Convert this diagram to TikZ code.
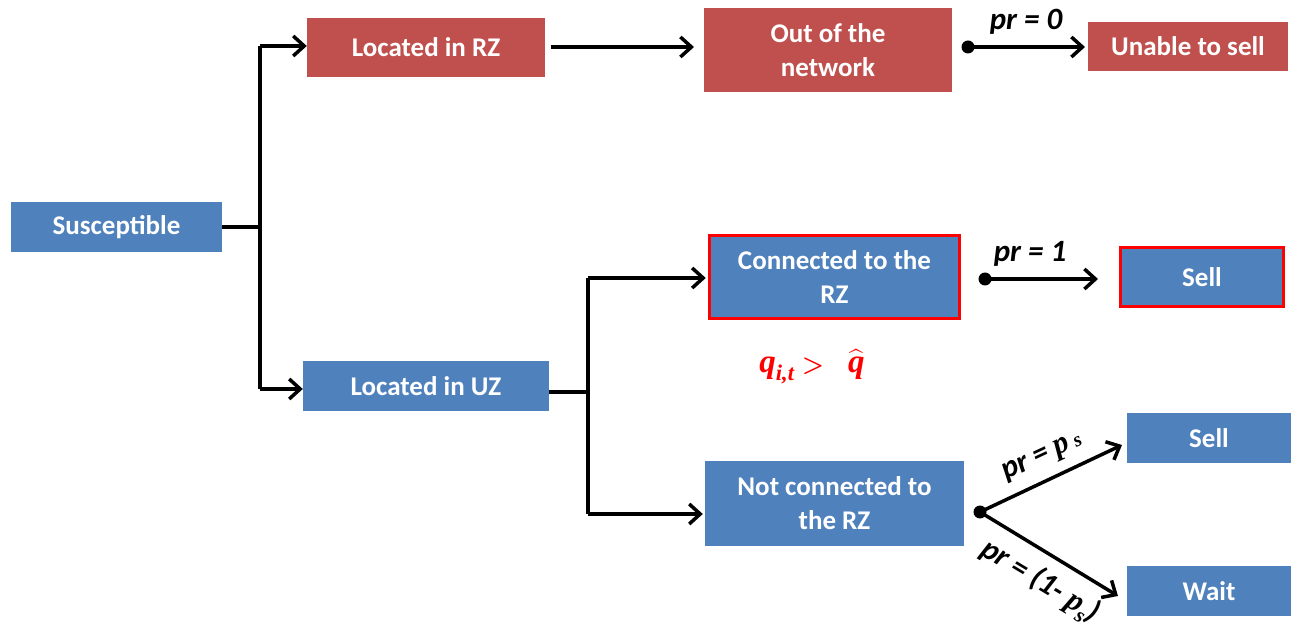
\documentclass[tikz,border=0pt]{standalone}
\usepackage{amsmath}
\usepackage{fontspec}
\setmainfont{Carlito}
\newfontfamily\serbi[BoldItalicFont={Liberation Serif Bold Italic}]{Liberation Serif}
\usetikzlibrary{arrows.meta}
\definecolor{boxred}{HTML}{C0504D}
\definecolor{boxblue}{HTML}{4F81BD}
\definecolor{hired}{HTML}{FF0000}
\newcommand{\mysub}[1]{\raisebox{-0.25em}{\fontsize{0.68em}{0.7em}\selectfont #1}}
\begin{document}
\begin{tikzpicture}[x=1pt,y=-1pt,
  box/.style={fill=boxblue,text=white,font=\fontsize{27}{34}\selectfont\bfseries,align=center,inner sep=0pt},
  rbox/.style={box,fill=boxred},
  hbox/.style={box,draw=hired,line width=3.5pt},
  conn/.style={line width=3.5pt,-{Straight Barb[length=11pt,width=20pt]}},
  plain/.style={line width=3.5pt},
  plab/.style={font=\fontsize{31}{34}\selectfont\bfseries\itshape},
  dotn/.style={circle,fill=black,inner sep=0pt,minimum size=13pt}]
\useasboundingbox (0,0) rectangle (1296,628);
% nodes
\node[box,minimum width=211pt,minimum height=50pt] (sus) at (116.5,227) {Susceptible};
\node[rbox,minimum width=238pt,minimum height=59pt] (lrz) at (426,47.5) {Located in RZ};
\node[box,minimum width=246pt,minimum height=50pt] (luz) at (426,386) {Located in UZ};
\node[rbox,minimum width=248pt,minimum height=84pt] (out) at (828,50) {Out of the\\network};
\node[rbox,minimum width=200pt,minimum height=49pt] (uns) at (1188,46.5) {Unable to sell};
\node[hbox,minimum width=250pt,minimum height=83pt] (con) at (834.5,277) {Connected to the\\RZ};
\node[hbox,minimum width=163pt,minimum height=59pt] (sell1) at (1202,277) {Sell};
\node[box,minimum width=259pt,minimum height=85pt] (ncon) at (834.5,503.5) {Not connected to\\the RZ};
\node[box,minimum width=164pt,minimum height=50pt] (sell2) at (1209,438) {Sell};
\node[box,minimum width=164pt,minimum height=50pt] (wait) at (1209,591) {Wait};
% junction coordinates
\coordinate (j1) at (260,227);
\coordinate (j1t) at (260,46);
\coordinate (j1b) at (260,389);
\coordinate (j2) at (588,392);
\coordinate (j2t) at (588,278);
\coordinate (j2b) at (588,514);
\coordinate (lrzo) at (551,47);
\coordinate (outi) at (694,47);
\node[dotn] (d1) at (968,47) {};
\node[dotn] (d2) at (985,279) {};
\node[dotn] (d3) at (980,512) {};
\coordinate (a1) at (1085,47);
\coordinate (a2) at (1098,279);
\coordinate (a3) at (1122,445);
\coordinate (a4) at (1118,596);
% connectors
\draw[plain] (sus.east) -- (j1);
\draw[plain] (j1t) -- (j1b);
\draw[conn] (j1t) -- (j1t -| lrz.west);
\draw[conn] (j1b) -- (j1b -| luz.west);
\draw[conn] (lrzo) -- (outi);
\draw[plain] (luz.east |- j2) -- (j2);
\draw[plain] (j2t) -- (j2b);
\draw[conn] (j2t) -- ([xshift=-2pt]j2t -| con.west);
\draw[conn] (j2b) -- ([xshift=-2pt]j2b -| ncon.west);
\draw[conn] (d1.center) -- (a1);
\draw[conn] (d2.center) -- (a2);
\draw[conn] (d3.center) -- (a3);
\draw[conn] (d3.center) -- (a4);
% labels
\node[plab] (l0) at (1026,22) {pr = 0};
\node[plab] (l1) at (1030,254) {pr = 1};
\node[plab,rotate=25] (l2) at (1043,458) {pr = {\serbi p\,{\fontsize{20}{20}\selectfont s}}};
\node[plab,rotate=-31] (l3) at (1040,582) {pr = (1- {\serbi p\mysub{s}})};
\node[text=hired,font=\fontsize{33}{36}\selectfont\serbi\bfseries\itshape\boldmath] (q) at (812,367) {q\mysub{i,t}$\;>\;\;\widehat{\mbox{q}}$};
\end{tikzpicture}
\end{document}
